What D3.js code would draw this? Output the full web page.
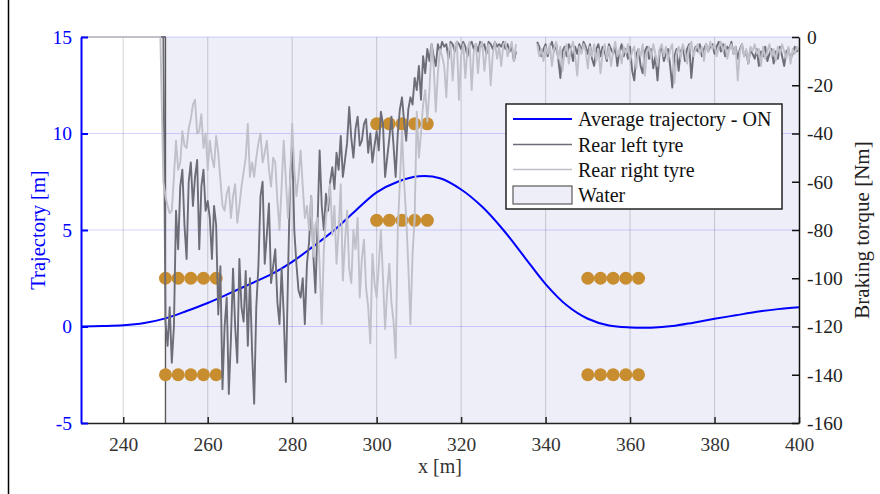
<!DOCTYPE html>
<html>
<head>
<meta charset="utf-8">
<script src="https://cdn.jsdelivr.net/npm/d3@7"></script>
<style>
  body { margin: 0; background: #fff; }
  text { font-family: "Liberation Serif", "Times New Roman", serif; }
</style>
</head>
<body>
<script>
// ---- data ----
// average trajectory, lateral position [m] vs x [m]
var trajX = [230,235,240,245,250,255,260,265,270,275,280,285,290,295,300,305,310,315,
             320,325,330,335,340,345,350,355,360,365,370,375,380,385,390,395,400];
var trajY = [0.00,0.02,0.06,0.18,0.42,0.80,1.22,1.70,2.20,2.70,3.35,4.15,5.00,6.00,6.95,7.50,7.78,7.68,
             7.10,6.20,5.00,3.60,2.20,1.10,0.40,0.05,-0.05,-0.06,0.02,0.20,0.40,0.58,0.76,0.90,1.00];

// braking torque [Nm], sampled every 0.5 m starting at 249.5 m (null = no sample)
var tyreStart = 249.5, tyreStep = 0.5;
var rearLeft = [
  0,-118,-128,-112,-135,-120,-72,-88,-62,-55,-78,-92,-60,-52,-70,-58,-51,-88,-62,-55,
  -72,-68,-75,-92,-70,-78,-115,-95,-146,-120,-108,-148,-125,-96,-120,-135,-92,-112,-118,-97,
  -128,-100,-130,-152,-112,-95,-66,-60,-94,-82,-69,-102,-95,-88,-110,-119,-96,-115,-143,-100,
  -60,-43,-80,-94,-105,-108,-100,-119,-94,-85,-66,-90,-106,-78,-47,-70,-80,-65,-72,-60,
  -54,-63,-48,-55,-41,-58,-51,-44,-29,-42,-50,-38,-33,-45,-43,-36,-34,-48,-40,-52,
  -45,-39,-47,-31,-36,-58,-50,-42,-33,-45,-58,-40,-30,-25,-35,-43,-30,-25,-28,-17,
  -22,-12,-26,-8,-15,-5,-10,-3,-8,-12,-3,-6,-2,-4,-3,-9,-2,-3,-6,-2,
  -3,-5,-2,-4,-8,-3,-2,-5,-3,-6,-2,-4,-3,-7,-2,-3,-5,-2,-4,-3,
  -4,-2,-5,-3,-6,-4,-10,-6,null,null,null,null,null,null,null,null,null,-2,-4,-8,
  -5,-3,-8,-4,-2,-6,-3,-9,-17,-6,-4,-8,-3,-5,-10,-4,-7,-3,-6,-2,
  -4,-7,-3,-9,-12,-5,-3,-8,-4,-6,-10,-3,-5,-7,-4,-12,-6,-3,-8,-5,
  -9,-4,-14,-18,-7,-5,-12,-15,-6,-4,-9,-5,-13,-8,-18,-6,-4,-10,-7,-5,
  -12,-21,-8,-5,-14,-6,-4,-10,-5,-3,-17,-7,-4,-6,-3,-8,-5,-3,-6,-4,
  -3,-7,-4,-2,-6,-3,-8,-4,-5,-2,-7,-4,-9,-5,-3,-8,-6,-11,-5,-7,
  -9,-5,-12,-6,-8,-4,-10,-7,-5,-11,-6,-9,-4,-8,-12,-6,-5,-9,-7,-4,
  -6,-5];
var rearRight = [
  -60,-66,-70,-73,-72,-58,-43,-55,-52,-39,-45,-46,-38,-34,-28,-26,-40,-39,-32,-46,
  -40,-55,-43,-50,-54,-41,-48,-59,-70,-72,-65,-62,-75,-66,-61,-77,-70,-62,-56,-50,
  -36,-58,-52,-58,-50,-44,-40,-52,-48,-43,-55,-62,-50,-52,-68,-80,-62,-43,-59,-75,
  -60,-36,-55,-66,-58,-47,-62,-75,-70,-80,-66,-91,-78,-75,-95,-119,-88,-75,-68,-61,
  -82,-70,-94,-80,-61,-101,-85,-72,-96,-102,-80,-88,-75,-108,-92,-84,-104,-112,-127,-90,
  -102,-108,-95,-80,-100,-121,-105,-94,-110,-118,-133,-80,-60,-39,-60,-75,-95,-119,-90,-75,
  -31,-50,-40,-28,-22,-35,-22,-3,-12,-31,-15,-5,-8,-12,-25,-6,-3,-18,-4,-2,
  -26,-8,-3,-17,-5,-2,-22,-6,-3,-15,-4,-2,-14,-6,-3,-20,-7,-2,-9,-4,
  -12,-3,-2,-8,-5,-2,-10,-3,null,null,null,null,null,null,null,null,null,-3,-8,-5,
  -10,-4,-7,-3,-12,-5,-2,-9,-4,-14,-6,-3,-11,-5,-2,-8,-16,-4,-7,-3,
  -6,-13,-4,-8,-3,-10,-5,-15,-7,-3,-9,-4,-12,-6,-2,-8,-5,-11,-4,-7,
  -3,-10,-6,-4,-13,-5,-8,-3,-16,-6,-4,-9,-3,-7,-12,-5,-3,-8,-4,-10,
  -5,-3,-19,-7,-4,-9,-3,-6,-11,-4,-2,-8,-5,-3,-7,-4,-10,-3,-6,-2,
  -5,-3,-8,-4,-2,-6,-3,-9,-5,-3,-7,-4,-18,-6,-3,-8,-5,-11,-4,-6,
  -3,-7,-5,-12,-4,-9,-6,-3,-8,-5,-10,-4,-7,-3,-6,-9,-4,-11,-5,-7,
  -4,-6];
// torque is zero before the wheels enter the water
var leftLead = [[230, 0], [249.9, 0]];
var rightLead = [[230, 0], [248.8, 0]];

// cone positions [m]
var coneX = [250,253,256,259,262, 250,253,256,259,262,
             300,303,306,309,312, 300,303,306,309,312,
             350,353,356,359,362, 350,353,356,359,362];
var coneY = [2.5,2.5,2.5,2.5,2.5, -2.5,-2.5,-2.5,-2.5,-2.5,
             10.5,10.5,10.5,10.5,10.5, 5.5,5.5,5.5,5.5,5.5,
             2.5,2.5,2.5,2.5,2.5, -2.5,-2.5,-2.5,-2.5,-2.5];

var waterStart = 250, waterEnd = 400;

var xTicks = [240,260,280,300,320,340,360,380,400];
var leftTicks = [-5,0,5,10,15];
var rightTicks = [-160,-140,-120,-100,-80,-60,-40,-20,0];
var legendLabels = ["Average trajectory - ON", "Rear left tyre", "Rear right tyre", "Water"];

// ---- drawing ----
var W = 880, H = 494;
var L = 81, R = 799, T = 37, B = 423;
var blue = "#0000ff", dark = "#6d6d77", light = "#c0c0c8", water = "#eeeef9", cone = "#c88d2e";
var serif = "Liberation Serif";

var svg = d3.select("body").append("svg").attr("width", W).attr("height", H);

var x = d3.scaleLinear().domain([230, 400]).range([L, R]);
var yL = d3.scaleLinear().domain([-5, 15]).range([B, T]);
var yR = d3.scaleLinear().domain([-160, 0]).range([B, T]);

svg.append("defs").append("clipPath").attr("id", "plot")
  .append("rect").attr("x", L).attr("y", T - 2).attr("width", R - L).attr("height", B - T + 2);

// outer frame edge
svg.append("line").attr("x1", 8.5).attr("x2", 8.5).attr("y1", 0).attr("y2", H)
  .attr("stroke", "#000").attr("stroke-width", 1.5);

// water patch (edge only visible on its left side)
svg.append("rect")
  .attr("x", x(waterStart)).attr("y", T)
  .attr("width", x(waterEnd) - x(waterStart)).attr("height", B - T)
  .attr("fill", water);
svg.append("line")
  .attr("x1", x(waterStart)).attr("x2", x(waterStart)).attr("y1", T).attr("y2", B)
  .attr("stroke", "#5a5a5a").attr("stroke-width", 1.4);

// grid
svg.append("g").selectAll("line").data(xTicks.filter(function(d) { return d < 400; }))
  .enter().append("line")
  .attr("x1", function(d) { return x(d); }).attr("x2", function(d) { return x(d); })
  .attr("y1", T).attr("y2", B)
  .attr("stroke", "#000").attr("stroke-opacity", 0.15).attr("stroke-width", 1.2);
svg.append("g").selectAll("line").data(leftTicks.filter(function(d) { return d > -5; }))
  .enter().append("line")
  .attr("x1", L).attr("x2", R)
  .attr("y1", function(d) { return yL(d); }).attr("y2", function(d) { return yL(d); })
  .attr("stroke", blue).attr("stroke-opacity", 0.17).attr("stroke-width", 1.2);

var plot = svg.append("g").attr("clip-path", "url(#plot)");

// trajectory
var trajLine = d3.line()
  .x(function(d, i) { return x(trajX[i]); })
  .y(function(d) { return yL(d); })
  .curve(d3.curveCatmullRom.alpha(0.5));
plot.append("path").datum(trajY).attr("d", trajLine)
  .attr("fill", "none").attr("stroke", blue).attr("stroke-width", 2);

// cones
plot.append("g").selectAll("circle").data(coneX).enter().append("circle")
  .attr("cx", function(d) { return x(d); })
  .attr("cy", function(d, i) { return yL(coneY[i]); })
  .attr("r", 6.5).attr("fill", cone);

// braking torque
function tyrePoints(lead, vals) {
  return lead.concat(vals.map(function(v, i) { return [tyreStart + i * tyreStep, v]; }));
}
var torqueLine = d3.line()
  .defined(function(d) { return d[1] !== null; })
  .x(function(d) { return x(d[0]); })
  .y(function(d) { return yR(d[1]); });
plot.append("path").datum(tyrePoints(leftLead, rearLeft)).attr("d", torqueLine)
  .attr("fill", "none").attr("stroke", dark).attr("stroke-width", 1.9).attr("stroke-linejoin", "round");
plot.append("path").datum(tyrePoints(rightLead, rearRight)).attr("d", torqueLine)
  .attr("fill", "none").attr("stroke", light).attr("stroke-width", 1.9).attr("stroke-linejoin", "round");

// axes
var fs = "19.5px";
var fmt = function(d) { return String(d); };   // plain hyphen minus, like the original
var gx = svg.append("g").attr("transform", "translate(0," + B + ")")
  .call(d3.axisBottom(x).tickValues(xTicks).tickFormat(fmt).tickSizeInner(-6).tickSizeOuter(0).tickPadding(14));
gx.selectAll("path,line").attr("stroke", "#222").attr("stroke-width", 1.5);
gx.selectAll("text").attr("fill", "#333").style("font-size", fs).style("font-family", serif);

var gl = svg.append("g").attr("transform", "translate(" + L + ",0)")
  .call(d3.axisLeft(yL).tickValues(leftTicks).tickFormat(fmt).tickSizeInner(-7).tickSizeOuter(0).tickPadding(9));
gl.selectAll("path,line").attr("stroke", blue).attr("stroke-width", 2);
gl.selectAll("text").attr("fill", blue).style("font-size", fs).style("font-family", serif);

var gr = svg.append("g").attr("transform", "translate(" + R + ",0)")
  .call(d3.axisRight(yR).tickValues(rightTicks).tickFormat(fmt).tickSizeInner(-7).tickSizeOuter(0).tickPadding(8));
gr.selectAll("path,line").attr("stroke", "#111").attr("stroke-width", 1.5);
gr.selectAll("text").attr("fill", "#222").style("font-size", fs).style("font-family", serif);

// axis titles
svg.append("text").attr("x", (L + R) / 2).attr("y", 473).attr("text-anchor", "middle")
  .attr("fill", "#333").style("font-size", "20px").style("font-family", serif).text("x [m]");
svg.append("text").attr("transform", "translate(45," + ((T + B) / 2) + ") rotate(-90)")
  .attr("text-anchor", "middle").attr("fill", blue)
  .style("font-size", "20.5px").style("font-family", serif).text("Trajectory [m]");
svg.append("text").attr("transform", "translate(869," + ((T + B) / 2) + ") rotate(-90)")
  .attr("text-anchor", "middle").attr("fill", "#222")
  .style("font-size", "21px").style("font-family", serif).text("Braking torque [Nm]");

// legend
var lg = svg.append("g").attr("transform", "translate(506,104)");
lg.append("rect").attr("width", 276).attr("height", 105)
  .attr("fill", "#fff").attr("stroke", "#222").attr("stroke-width", 1.5);
var rows = [15, 40.5, 65.5, 91];
lg.append("line").attr("x1", 7).attr("x2", 66).attr("y1", rows[0]).attr("y2", rows[0])
  .attr("stroke", blue).attr("stroke-width", 2);
lg.append("line").attr("x1", 7).attr("x2", 66).attr("y1", rows[1]).attr("y2", rows[1])
  .attr("stroke", dark).attr("stroke-width", 1.5);
lg.append("line").attr("x1", 7).attr("x2", 66).attr("y1", rows[2]).attr("y2", rows[2])
  .attr("stroke", light).attr("stroke-width", 1.5);
lg.append("rect").attr("x", 7).attr("y", rows[3] - 9).attr("width", 59).attr("height", 18)
  .attr("fill", water).attr("stroke", "#5a5a5a").attr("stroke-width", 1.2);
lg.selectAll("text.lab").data(legendLabels).enter().append("text")
  .attr("class", "lab")
  .attr("x", 72).attr("y", function(d, i) { return rows[i]; })
  .attr("dy", "0.35em").attr("fill", "#111").style("font-size", "20px").style("font-family", serif)
  .text(function(d) { return d; });
</script>
</body>
</html>
